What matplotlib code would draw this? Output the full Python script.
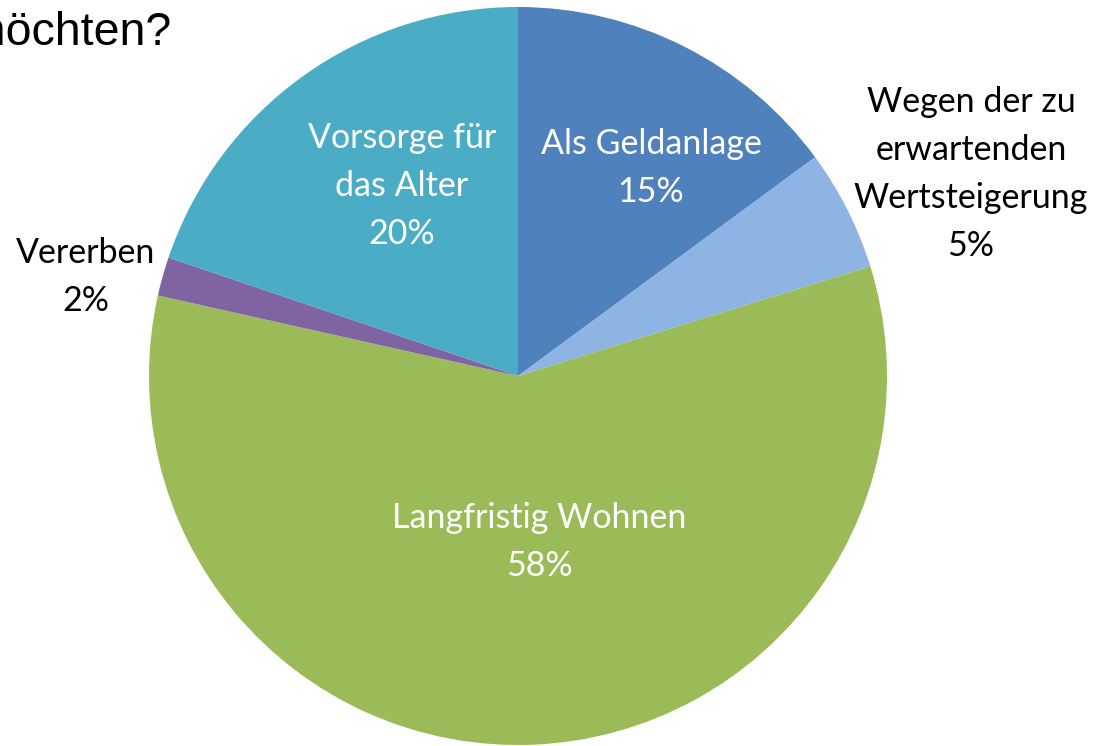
import matplotlib.pyplot as plt

# data
labels = ['Als Geldanlage', 'Wegen der zu\nerwartenden\nWertsteigerung', 'Langfristig Wohnen',
          'Vererben', 'Vorsorge für\ndas Alter']
shares = [14.9, 5.3, 58.3, 1.7, 19.8]
colors = ['#4f81bd', '#8eb4e3', '#9bbb59', '#8064a2', '#4bacc6']

# label text position (pixel coords, y from top) and colour
label_pos = [(651, 168), (971, 174), (539, 542), (86, 277), (402, 186)]
label_col = ['white', 'black', 'white', 'black', 'white']

W, H = 1093, 746
fig = plt.figure(figsize=(W / 100, H / 100), dpi=100)
ax = fig.add_axes([0, 0, 1, 1])

ax.pie(shares, colors=colors, startangle=90, counterclock=False,
       center=(518, H - 376), radius=369, frame=True,
       wedgeprops=dict(linewidth=0))
ax.set_xlim(0, W)
ax.set_ylim(0, H)
ax.set_aspect('equal')
ax.axis('off')

for lab, val, (x, y), c in zip(labels, shares, label_pos, label_col):
    ax.text(x, H - y, f'{lab}\n{val:.0f}%', ha='center', va='center', color=c,
            fontsize=24.5, family='Lato', linespacing=1.61)

# title, cut off on the left like in the original
ax.text(171, H - 45, 'Wohneigentum erwerben möchten?', ha='right', va='baseline',
        fontsize=33.5, family='Liberation Sans', color='black')

plt.savefig('out.png', dpi=100)
